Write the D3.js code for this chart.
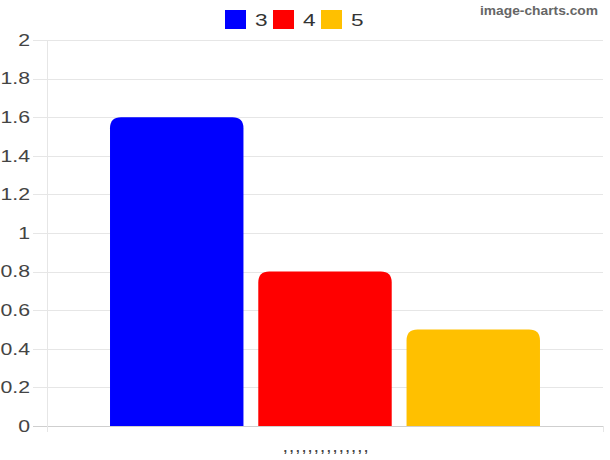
<!DOCTYPE html>
<html>
<head>
<meta charset="utf-8">
<script src="https://cdn.jsdelivr.net/npm/d3@7"></script>
<style>
  html, body { margin: 0; padding: 0; background: #fff; }
  svg { display: block; }
  text { font-family: "Liberation Sans", Arial, sans-serif; }
</style>
</head>
<body>
<svg id="chart" width="610" height="460"></svg>
<script>
// Data
const categories = [",,,,,,,,,,,,,,"];
const seriesNames = ["3", "4", "5"];
const seriesValues = [[1.6], [0.8], [0.5]];
const seriesColors = ["#0000ff", "#ff0000", "#ffc000"];
const yTicks = [0, 0.2, 0.4, 0.6, 0.8, 1, 1.2, 1.4, 1.6, 1.8, 2];

const W = 610, H = 460;
const margin = { left: 47, right: 7, top: 40, bottom: 34 };
const stretch = 1.33; // horizontal widening of the glyphs

const svg = d3.select("#chart");

const y = d3.scaleLinear().domain([0, 2]).range([H - margin.bottom, margin.top]);
const x0 = d3.scaleBand().domain(categories)
  .range([margin.left, W - margin.right])
  .paddingInner(0.2).paddingOuter(0.1);
const x1 = d3.scaleBand().domain(seriesNames)
  .range([0, x0.bandwidth()])
  .paddingInner(0.1).paddingOuter(0.05);

// Gridlines
const grid = svg.append("g");
grid.selectAll("line.h").data(yTicks).join("line")
  .attr("x1", margin.left - 14).attr("x2", W - margin.right)
  .attr("y1", d => Math.round(y(d)) + 0.5).attr("y2", d => Math.round(y(d)) + 0.5)
  .attr("stroke", d => d === 0 ? "#cfcfcf" : "#e6e6e6").attr("stroke-width", 1);
grid.append("line")
  .attr("x1", margin.left + 0.5).attr("x2", margin.left + 0.5)
  .attr("y1", margin.top).attr("y2", y(0) + 6)
  .attr("stroke", "#e6e6e6");
grid.append("line")
  .attr("x1", W - margin.right + 0.5).attr("x2", W - margin.right + 0.5)
  .attr("y1", y(0)).attr("y2", y(0) + 6)
  .attr("stroke", "#e6e6e6");

// Y tick labels
svg.append("g").selectAll("g").data(yTicks).join("g")
  .attr("transform", d => `translate(30,${y(d)}) scale(${stretch},1)`)
  .append("text")
  .attr("text-anchor", "end").attr("dy", "0.36em")
  .attr("font-size", 16).attr("fill", "#444")
  .text(d => d3.format("~g")(d));

// X category label
svg.append("g").selectAll("text").data(categories).join("text")
  .attr("x", d => x0(d) + x0.bandwidth() / 2 + 2)
  .attr("y", H - 8)
  .attr("text-anchor", "middle")
  .attr("font-size", 13).attr("font-weight", "bold").attr("fill", "#444")
  .attr("letter-spacing", 2.6)
  .text(d => d);

// Bars with rounded top corners
function topRounded(x, yTop, w, yBase, r) {
  r = Math.min(r, w / 2, yBase - yTop);
  return `M${x},${yBase}V${yTop + r}Q${x},${yTop} ${x + r},${yTop}` +
    `H${x + w - r}Q${x + w},${yTop} ${x + w},${yTop + r}V${yBase}Z`;
}
const bars = [];
categories.forEach((c, ci) => {
  seriesNames.forEach((s, si) => {
    bars.push({ c, s, v: seriesValues[si][ci], color: seriesColors[si] });
  });
});
svg.append("g").selectAll("path").data(bars).join("path")
  .attr("d", d => topRounded(x0(d.c) + x1(d.s), y(d.v), x1.bandwidth(), y(0), 11))
  .attr("fill", d => d.color);

// Legend
const legend = svg.append("g");
const legX = [225, 273, 321];
seriesNames.forEach((s, i) => {
  legend.append("rect")
    .attr("x", legX[i]).attr("y", 10).attr("width", 21).attr("height", 19)
    .attr("fill", seriesColors[i]);
  legend.append("g")
    .attr("transform", `translate(${legX[i] + 30},26) scale(${stretch},1)`)
    .append("text")
    .attr("font-size", 17).attr("fill", "#333")
    .text(s);
});

// Watermark
svg.append("g")
  .attr("transform", "translate(480,15) scale(1.2,1.05)")
  .append("text")
  .attr("font-family", "DejaVu Sans Mono, monospace")
  .attr("font-weight", "bold").attr("font-size", 11.5).attr("fill", "#666")
  .text("image-charts.com");
</script>
</body>
</html>
